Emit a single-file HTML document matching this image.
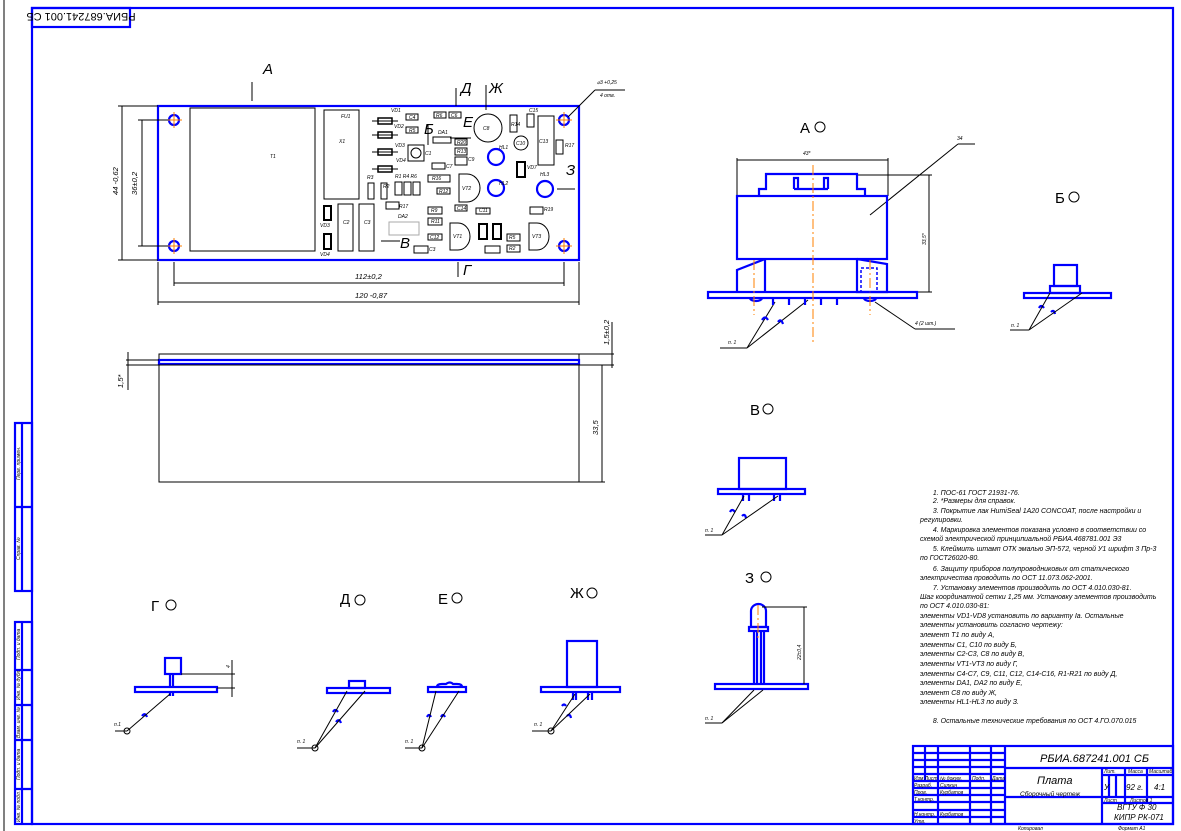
<!DOCTYPE html>
<html><head><meta charset="utf-8"><style>
html,body{margin:0;padding:0;background:#fff;width:1181px;height:831px;overflow:hidden}
svg{display:block}
text{font-family:"Liberation Sans",sans-serif;font-style:italic;fill:#000}
.b{stroke:#0000ff;fill:none;stroke-width:2.2}
.k{stroke:#000;fill:none;stroke-width:1}
.c{stroke:#000;fill:#fff;stroke-width:1}
.o{stroke:#ff8000;stroke-width:1;stroke-dasharray:10 3 2 3}
.s{font-size:5px}
.n{font-size:7.6px}
.L{font-size:15px;font-style:normal}
</style></head><body>
<svg width="1181" height="831" viewBox="0 0 1181 831" xmlns="http://www.w3.org/2000/svg">
<!-- frame -->
<line x1="4" y1="0" x2="4" y2="831" stroke="#000" stroke-width="1"/>
<rect x="32" y="8" width="1141" height="816" class="b"/>
<rect x="32" y="8" width="98" height="19" class="b"/>
<text x="81" y="21" text-anchor="middle" transform="rotate(180 81 17)" font-size="11" style="font-style:normal">РБИА.687241.001 СБ</text>
<!-- left strips -->
<g class="b">
<rect x="15" y="423" width="17" height="168"/><line x1="22" y1="423" x2="22" y2="591"/><line x1="15" y1="507" x2="32" y2="507"/>
<rect x="15" y="622" width="17" height="202"/><line x1="22" y1="622" x2="22" y2="824"/>
<line x1="15" y1="670" x2="32" y2="670"/><line x1="15" y1="705" x2="32" y2="705"/><line x1="15" y1="740" x2="32" y2="740"/><line x1="15" y1="789" x2="32" y2="789"/>
</g>
<g class="s">
<text transform="translate(20,480) rotate(-90)">Перв. примен.</text>
<text transform="translate(20,560) rotate(-90)">Справ. №</text>
<text transform="translate(20,660) rotate(-90)">Подп. и дата</text>
<text transform="translate(20,700) rotate(-90)">Инв. № дубл.</text>
<text transform="translate(20,738) rotate(-90)">Взам. инв. №</text>
<text transform="translate(20,780) rotate(-90)">Подп. и дата</text>
<text transform="translate(20,822) rotate(-90)">Инв. № подл.</text>
</g>

<!-- PCB top view -->
<rect x="158" y="106" width="421" height="154" class="b"/>
<rect x="190" y="108" width="125" height="143" class="k"/>
<text x="270" y="158" class="s">T1</text>
<g>
<circle cx="174" cy="120" r="5" class="b"/><circle cx="174" cy="246" r="5" class="b"/>
<circle cx="564" cy="120" r="5" class="b"/><circle cx="564" cy="246" r="5" class="b"/>
<g stroke="#ff8000" stroke-width="1">
<line x1="166" y1="120" x2="182" y2="120"/><line x1="174" y1="112" x2="174" y2="128"/>
<line x1="166" y1="246" x2="182" y2="246"/><line x1="174" y1="238" x2="174" y2="254"/>
<line x1="556" y1="120" x2="572" y2="120"/><line x1="564" y1="112" x2="564" y2="128"/>
<line x1="556" y1="246" x2="572" y2="246"/><line x1="564" y1="238" x2="564" y2="254"/>
</g></g>
<g class="k">
<rect x="324" y="110" width="35" height="89"/>
<rect x="406" y="114" width="12" height="6"/><rect x="406" y="127" width="12" height="6"/>
<rect x="408" y="145" width="16" height="16"/><circle cx="416" cy="153" r="5"/>
<rect x="434" y="112" width="12" height="6"/><rect x="449" y="112" width="12" height="6"/>
<rect x="433" y="137" width="18" height="6"/>
<rect x="455" y="139" width="12" height="6"/><rect x="455" y="148" width="12" height="7"/><rect x="455" y="157" width="12" height="8"/>
<rect x="432" y="163" width="13" height="6"/>
<rect x="368" y="183" width="6" height="16"/><rect x="381" y="183" width="6" height="16"/>
<rect x="395" y="182" width="7" height="13"/><rect x="404" y="182" width="7" height="13"/><rect x="413" y="182" width="7" height="13"/>
<rect x="428" y="175" width="22" height="7"/><rect x="437" y="188" width="13" height="6"/>
<path d="M459 174 h8 a13 14 0 0 1 0 28 h-8 z"/>
<circle cx="488" cy="128" r="14"/>
<rect x="510" y="115" width="7" height="17"/><rect x="527" y="114" width="7" height="13"/>
<circle cx="521" cy="143" r="7"/>
<rect x="538" y="116" width="16" height="49"/><rect x="556" y="140" width="7" height="14"/>
<rect x="386" y="202" width="13" height="7"/>
<rect x="338" y="204" width="15" height="47"/><rect x="359" y="204" width="15" height="47"/>
<rect x="428" y="207" width="14" height="7"/><rect x="428" y="218" width="14" height="7"/><rect x="428" y="234" width="14" height="6"/>
<rect x="414" y="246" width="14" height="7"/>
<path d="M450 223 h8 a12 13.5 0 0 1 0 27 h-8 z"/>
<path d="M529 223 h8 a12 13.5 0 0 1 0 27 h-8 z"/>
<rect x="455" y="205" width="12" height="6"/><rect x="476" y="208" width="14" height="6"/>
<rect x="507" y="234" width="13" height="7"/><rect x="507" y="245" width="13" height="7"/><rect x="485" y="246" width="15" height="7"/>
<rect x="530" y="207" width="13" height="7"/>
</g>
<rect x="389" y="222" width="30" height="13" fill="none" stroke="#aaa"/>
<g fill="#fff" stroke="#000" stroke-width="2">
<rect x="324" y="206" width="7" height="14"/><rect x="324" y="234" width="7" height="15"/>
<rect x="517" y="162" width="8" height="15"/>
<rect x="479" y="224" width="8" height="15"/><rect x="493" y="224" width="8" height="15"/>
</g>
<g stroke="#000" stroke-width="1.5" fill="#fff">
<rect x="378" y="118" width="14" height="6"/><rect x="378" y="132" width="14" height="6"/><rect x="378" y="149" width="14" height="6"/><rect x="378" y="166" width="14" height="6"/>
</g>
<g stroke="#000" stroke-width="1"><line x1="372" y1="121" x2="398" y2="121"/><line x1="372" y1="135" x2="398" y2="135"/><line x1="372" y1="152" x2="398" y2="152"/><line x1="372" y1="169" x2="398" y2="169"/></g>
<g class="b"><circle cx="496" cy="157" r="8"/><circle cx="496" cy="188" r="8"/><circle cx="545" cy="189" r="8"/></g>
<g class="s">
<text x="341" y="118">FU1</text><text x="339" y="143">X1</text>
<text x="391" y="112">VD1</text><text x="394" y="128">VD2</text><text x="395" y="147">VD3</text><text x="396" y="162">VD4</text>
<text x="409" y="119">C4</text><text x="409" y="132">R5</text><text x="425" y="155">C1</text>
<text x="436" y="117">R6</text><text x="451" y="117">C6</text><text x="438" y="134">DA1</text>
<text x="457" y="144">R20</text><text x="457" y="153">R13</text><text x="468" y="161">C9</text><text x="446" y="168">C7</text>
<text x="367" y="179">R3</text><text x="383" y="188">R2</text><text x="395" y="178">R1 R4 R6</text>
<text x="432" y="180">R16</text><text x="439" y="193">R12</text><text x="462" y="190">VT2</text>
<text x="483" y="130">C8</text><text x="511" y="126">R14</text><text x="529" y="112">C15</text><text x="516" y="145">C10</text>
<text x="539" y="143">C13</text><text x="565" y="147">R17</text><text x="499" y="149">HL1</text><text x="499" y="185">HL2</text><text x="540" y="176">HL3</text><text x="527" y="169">VD7</text>
<text x="399" y="208">R17</text><text x="320" y="227">VD3</text><text x="320" y="256">VD4</text><text x="343" y="224">C2</text><text x="364" y="224">C3</text>
<text x="398" y="218">DA2</text><text x="431" y="212">R9</text><text x="431" y="223">R11</text><text x="430" y="239">C12</text><text x="429" y="251">C3</text>
<text x="453" y="238">VT1</text><text x="532" y="238">VT3</text><text x="457" y="210">C14</text><text x="479" y="212">C11</text>
<text x="509" y="239">R5</text><text x="509" y="250">R2</text><text x="544" y="211">R19</text>
</g>
<!-- PCB labels/arrows -->
<g stroke="#000" stroke-width="1">
<line x1="252" y1="82" x2="252" y2="101"/><line x1="456" y1="88" x2="456" y2="106"/><line x1="486" y1="85" x2="486" y2="110"/>
<line x1="428" y1="124" x2="428" y2="145"/><line x1="450" y1="138" x2="471" y2="138"/>
<line x1="557" y1="189" x2="575" y2="189"/><line x1="381" y1="241" x2="400" y2="241"/><line x1="458" y1="262" x2="458" y2="277"/>
<line x1="568" y1="117" x2="595" y2="90"/><line x1="595" y1="90" x2="625" y2="90"/>
</g>
<g class="L">
<text x="263" y="74">А</text><text x="461" y="93">Д</text><text x="489" y="93">Ж</text><text x="424" y="134">Б</text><text x="463" y="127">Е</text>
<text x="566" y="175">З</text><text x="400" y="248">В</text><text x="463" y="275">Г</text>
</g>
<text x="597" y="84" class="s">⌀3 +0,25</text><text x="600" y="97" class="s">4 отв.</text>
<!-- dims -->
<g class="k">
<line x1="174" y1="262" x2="174" y2="286"/><line x1="564" y1="262" x2="564" y2="286"/>
<line x1="174" y1="283" x2="564" y2="283"/>
<line x1="158" y1="262" x2="158" y2="305"/><line x1="579" y1="262" x2="579" y2="305"/>
<line x1="158" y1="302" x2="579" y2="302"/>
<line x1="118" y1="106" x2="158" y2="106"/><line x1="118" y1="260" x2="158" y2="260"/>
<line x1="122" y1="106" x2="122" y2="260"/>
<line x1="138" y1="120" x2="168" y2="120"/><line x1="138" y1="246" x2="168" y2="246"/>
<line x1="142" y1="120" x2="142" y2="246"/>
</g>
<text x="355" y="279" class="n">112±0,2</text><text x="355" y="298" class="n">120 -0,87</text>
<text transform="translate(118,195) rotate(-90)" class="n">44 -0,62</text>
<text transform="translate(137,195) rotate(-90)" class="n">36±0,2</text>

<!-- side view of board -->
<rect x="159" y="354" width="420" height="6" class="k"/>
<rect x="159" y="360" width="420" height="4" class="b" stroke-width="1.6"/>
<rect x="159" y="365" width="420" height="117" class="k"/>
<g class="k">
<line x1="126" y1="360" x2="159" y2="360"/><line x1="126" y1="365" x2="159" y2="365"/><line x1="128" y1="352" x2="128" y2="390"/>
<line x1="579" y1="354" x2="614" y2="354"/><line x1="579" y1="365" x2="614" y2="365"/><line x1="612" y1="322" x2="612" y2="368"/>
<line x1="579" y1="482" x2="605" y2="482"/><line x1="602" y1="365" x2="602" y2="482"/>
</g>
<text transform="translate(123,388) rotate(-90)" class="n">1,5*</text>
<text transform="translate(609,345) rotate(-90)" class="n">1,5±0,2</text>
<text transform="translate(598,435) rotate(-90)" class="n">33,5</text>

<!-- View A -->
<text x="800" y="133" class="L">А</text><circle cx="820" cy="127" r="5" class="k"/>
<g class="k">
<line x1="737" y1="158" x2="737" y2="196"/><line x1="888" y1="158" x2="888" y2="196"/>
<line x1="737" y1="160" x2="888" y2="160"/>
<line x1="857" y1="175" x2="932" y2="175"/><line x1="917" y1="292" x2="932" y2="292"/><line x1="929" y1="175" x2="929" y2="292"/>
<line x1="870" y1="215" x2="958" y2="144"/><line x1="958" y1="144" x2="975" y2="144"/>
<line x1="875" y1="302" x2="915" y2="329"/><line x1="915" y1="329" x2="955" y2="329"/>
<line x1="720" y1="348" x2="747" y2="348"/><line x1="747" y1="348" x2="775" y2="302"/><line x1="747" y1="348" x2="808" y2="300"/>
</g>
<text x="803" y="155" class="s">43*</text><text x="957" y="140" class="s">34</text><text x="915" y="325" class="s">4 (2 шт.)</text><text x="728" y="344" class="s">п. 1</text>
<text transform="translate(926,245) rotate(-90)" class="s">33,5*</text>
<g class="b">
<rect x="737" y="196" width="150" height="63"/>
<path d="M759 196 v-7 h7 v-15 h91 v15 h8 v7"/>
<path d="M794 189 v-11 h4 v11 M824 189 v-11 h4 v11 M794 189 h34"/>
<rect x="708" y="292" width="209" height="6"/>
<path d="M765 259 v33 M737 292 v-22 l28 -11 M857 259 v33 h30 v-28 l-30 -5"/>
<path d="M750 298 a6 3 0 0 0 12 0 M773 298 v7 M789 298 v7 M805 298 v7 M821 298 v7 M837 298 v7 M864 298 a6 3 0 0 0 12 0"/>
<path d="M762 320 q3 -5 6 0 M778 322 q3 -4 5 2"/>
</g>
<line x1="813" y1="165" x2="813" y2="345" class="o"/><line x1="754" y1="260" x2="754" y2="315" class="o"/><line x1="870" y1="260" x2="870" y2="315" class="o"/>
<rect x="861" y="268" width="16" height="24" fill="none" stroke="#0000ff" stroke-width="1.5" stroke-dasharray="3 2"/>

<!-- View Б -->
<text x="1055" y="203" class="L">Б</text><circle cx="1074" cy="197" r="5" class="k"/>
<g class="b"><rect x="1024" y="293" width="87" height="5"/><rect x="1050" y="286" width="30" height="7"/><rect x="1054" y="265" width="23" height="21"/>
<path d="M1039 308 q2 -4 5 0 M1051 312 q3 -3 4 2"/></g>
<g class="k"><line x1="1010" y1="330" x2="1029" y2="330"/><line x1="1029" y1="330" x2="1050" y2="293"/><line x1="1029" y1="330" x2="1082" y2="293"/></g>
<text x="1011" y="327" class="s">п. 1</text>

<!-- View В -->
<text x="750" y="415" class="L">В</text><circle cx="768" cy="409" r="5" class="k"/>
<g class="b"><rect x="718" y="489" width="87" height="5"/><rect x="739" y="458" width="47" height="31"/>
<path d="M743 494 v7 M749 494 v7 M774 494 v7 M780 494 v7 M730 512 q2 -4 5 0 M742 516 q3 -3 4 2"/></g>
<g class="k"><line x1="705" y1="535" x2="722" y2="535"/><line x1="722" y1="535" x2="744" y2="496"/><line x1="722" y1="535" x2="778" y2="496"/></g>
<text x="705" y="532" class="s">п. 1</text>

<!-- View З -->
<text x="745" y="583" class="L">З</text><circle cx="766" cy="577" r="5" class="k"/>
<g class="b"><rect x="715" y="684" width="93" height="5"/><path d="M751 627 v-16 a7.5 7 0 0 1 15 0 v16 z"/><rect x="749" y="627" width="19" height="4"/>
<path d="M754 631 v53 M757 631 v53 M761 631 v53 M764 631 v53"/></g>
<line x1="758" y1="605" x2="758" y2="640" class="o"/>
<g class="k"><line x1="762" y1="607" x2="807" y2="607"/><line x1="804" y1="607" x2="804" y2="684"/>
<line x1="705" y1="723" x2="722" y2="723"/><line x1="722" y1="723" x2="754" y2="690"/><line x1="722" y1="723" x2="763" y2="690"/></g>
<text x="705" y="720" class="s">п. 1</text>
<text transform="translate(801,660) rotate(-90)" class="s">22±0,4</text>

<!-- View Г -->
<text x="151" y="611" class="L">Г</text><circle cx="171" cy="605" r="5" class="k"/>
<g class="b"><rect x="135" y="687" width="82" height="5"/><rect x="165" y="658" width="16" height="16"/><path d="M170 674 v13 M173 674 v13 M170 692 v4 M173 692 v4 M142 716 q3 -4 5 1"/></g>
<g class="k"><line x1="181" y1="674" x2="235" y2="674"/><line x1="217" y1="688" x2="235" y2="688"/><line x1="232" y1="660" x2="232" y2="697"/>
<line x1="115" y1="731" x2="127" y2="731"/><line x1="127" y1="731" x2="170" y2="694"/><circle cx="127" cy="731" r="3"/></g>
<text x="114" y="726" class="s">п.1</text><text transform="translate(230,668) rotate(-90)" class="s">4</text>

<!-- View Д -->
<text x="340" y="604" class="L">Д</text><circle cx="360" cy="600" r="5" class="k"/>
<g class="b"><rect x="327" y="688" width="63" height="5"/><rect x="349" y="681" width="16" height="7"/><path d="M333 712 q2 -4 5 0 M336 722 q3 -4 5 1"/></g>
<g class="k"><line x1="297" y1="748" x2="315" y2="748"/><line x1="315" y1="748" x2="347" y2="691"/><line x1="315" y1="748" x2="365" y2="691"/><circle cx="315" cy="748" r="3"/></g>
<text x="297" y="743" class="s">п. 1</text>

<!-- View Е -->
<text x="438" y="604" class="L">Е</text><circle cx="457" cy="598" r="5" class="k"/>
<g class="b"><rect x="428" y="687" width="38" height="5"/><path d="M437 687 q0 -3 5 -3 h4 q4 -3 7 0 h4 q5 0 5 3"/><path d="M427 717 q2 -4 4 0 M441 717 q2 -4 4 0"/></g>
<g class="k"><line x1="405" y1="748" x2="422" y2="748"/><line x1="422" y1="748" x2="436" y2="691"/><line x1="422" y1="748" x2="459" y2="691"/><circle cx="422" cy="748" r="3"/></g>
<text x="405" y="743" class="s">п. 1</text>

<!-- View Ж -->
<text x="570" y="598" class="L">Ж</text><circle cx="592" cy="593" r="5" class="k"/>
<g class="b"><rect x="541" y="687" width="79" height="5"/><rect x="567" y="641" width="30" height="46"/><path d="M573 692 v8 M576 692 v8 M588 692 v8 M592 692 v8 M562 706 q2 -3 4 0 M567 716 q3 -3 4 2"/></g>
<g class="k"><line x1="532" y1="731" x2="551" y2="731"/><line x1="551" y1="731" x2="575" y2="694"/><line x1="551" y1="731" x2="590" y2="694"/><circle cx="551" cy="731" r="3"/></g>
<text x="534" y="726" class="s">п. 1</text>

<!-- notes -->
<g class="n" font-size="7.6" transform="translate(73.6,0) scale(0.92,1)">
<text x="934" y="495">1. ПОС-61 ГОСТ 21931-76.</text>
<text x="934" y="503">2. *Размеры для справок.</text>
<text x="934" y="513">3. Покрытие лак HumiSeal 1A20 CONCOAT, после настройки и</text>
<text x="920" y="522">регулировки.</text>
<text x="934" y="532">4. Маркировка элементов показана условно в соответствии со</text>
<text x="920" y="541">схемой электрической принципиальной РБИА.468781.001 Э3</text>
<text x="934" y="551">5. Клеймить штамп ОТК эмалью ЭП-572, черной У1 шрифт 3 Пр-3</text>
<text x="920" y="560">по ГОСТ26020-80.</text>
<text x="934" y="571">6. Защиту приборов полупроводниковых от статического</text>
<text x="920" y="580">электричества проводить по ОСТ 11.073.062-2001.</text>
<text x="934" y="590">7. Установку элементов производить по ОСТ 4.010.030-81.</text>
<text x="920" y="599">Шаг координатной сетки 1,25 мм. Установку элементов производить</text>
<text x="920" y="608">по ОСТ 4.010.030-81:</text>
<text x="920" y="618">элементы VD1-VD8 установить по варианту Iа. Остальные</text>
<text x="920" y="627">элементы установить согласно чертежу:</text>
<text x="920" y="637">элемент T1 по виду А,</text>
<text x="920" y="647">элементы С1, С10 по виду Б,</text>
<text x="920" y="656">элементы С2-С3, С8 по виду В,</text>
<text x="920" y="666">элементы VT1-VT3 по виду Г,</text>
<text x="920" y="676">элементы С4-С7, С9, С11, С12, С14-С16, R1-R21 по виду Д,</text>
<text x="920" y="685">элементы DA1, DA2 по виду Е,</text>
<text x="920" y="695">элемент С8 по виду Ж,</text>
<text x="920" y="704">элементы HL1-HL3 по виду З.</text>
<text x="934" y="723">8. Остальные технические требования по ОСТ 4.ГО.070.015</text>
</g>

<!-- title block -->
<g class="b" stroke-width="1.8">
<rect x="913" y="746" width="260" height="78"/>
<line x1="1005" y1="746" x2="1005" y2="824"/>
<line x1="1005" y1="768" x2="1173" y2="768"/><line x1="1005" y1="797" x2="1173" y2="797"/>
<line x1="1102" y1="768" x2="1102" y2="824"/><line x1="1125" y1="768" x2="1125" y2="803"/><line x1="1147" y1="768" x2="1147" y2="803"/>
<line x1="1102" y1="775" x2="1173" y2="775"/><line x1="1102" y1="803" x2="1173" y2="803"/>
<line x1="1109" y1="775" x2="1109" y2="797"/><line x1="1116" y1="775" x2="1116" y2="797"/>
<line x1="925" y1="746" x2="925" y2="781"/><line x1="938" y1="746" x2="938" y2="824"/><line x1="970" y1="746" x2="970" y2="824"/><line x1="991" y1="746" x2="991" y2="824"/>
<line x1="913" y1="753" x2="1005" y2="753"/><line x1="913" y1="760" x2="1005" y2="760"/><line x1="913" y1="767" x2="1005" y2="767"/><line x1="913" y1="774" x2="1005" y2="774"/><line x1="913" y1="781" x2="1005" y2="781"/>
<line x1="913" y1="788" x2="1005" y2="788"/><line x1="913" y1="795" x2="1005" y2="795"/><line x1="913" y1="802" x2="1005" y2="802"/><line x1="913" y1="810" x2="1005" y2="810"/><line x1="913" y1="817" x2="1005" y2="817"/>
</g>
<text x="1040" y="762" font-size="11">РБИА.687241.001 СБ</text>
<text x="1037" y="784" font-size="11">Плата</text>
<text x="1020" y="796" font-size="6.5">Сборочный чертеж</text>
<text x="1126" y="790" font-size="8">92 г.</text><text x="1154" y="790" font-size="8">4:1</text><text x="1104" y="790" font-size="8">У</text>
<text x="1117" y="810" font-size="8">ВГТУ Ф 30</text><text x="1114" y="820" font-size="8">КИПР РК-071</text>
<g class="s" font-size="4.5">
<text x="1104" y="773">Лит.</text><text x="1128" y="773">Масса</text><text x="1149" y="773">Масштаб</text>
<text x="1104" y="802">Лист</text><text x="1130" y="802">Листов 1</text>
<text x="914" y="780">Изм Лист</text><text x="940" y="780">№ докум.</text><text x="972" y="780">Подп.</text><text x="992" y="780">Дата</text>
<text x="914" y="787">Разраб.</text><text x="940" y="787">Силкин</text><text x="914" y="794">Пров.</text><text x="940" y="794">Курбатов</text>
<text x="914" y="801">Т.контр.</text><text x="914" y="816">Н.контр.</text><text x="940" y="816">Курбатов</text><text x="914" y="823">Утв.</text>
<text x="1018" y="830">Копировал</text><text x="1118" y="830">Формат A1</text>
</g>
</svg>
</body></html>
